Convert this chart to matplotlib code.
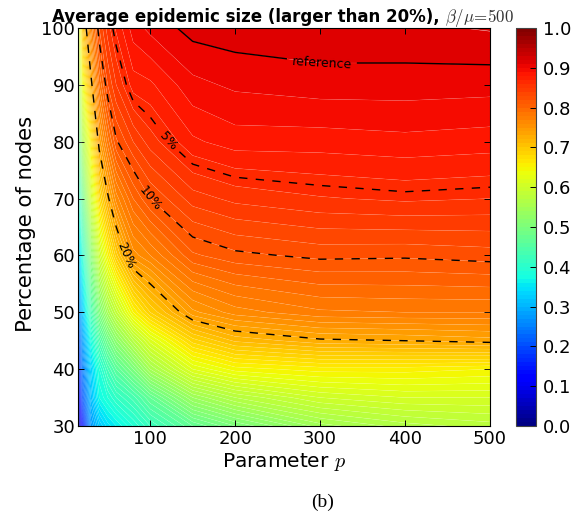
# average epidemic size vs parameter p and percentage of nodes
import numpy as np
import matplotlib
matplotlib.use('Agg')
import matplotlib.pyplot as plt

# grid
p_values = [15, 20, 30, 40, 50, 60, 80, 100, 150, 200, 300, 400, 500]
node_pct = [30, 35, 40, 45, 50, 60, 70, 80, 90, 100]

size_30 = [.03, .13, .27, .32, .345, .36, .39, .42, .47, .50, .545, .565, .575]
size_35 = [.09, .20, .31, .37, .39, .41, .435, .47, .54, .57, .60, .61, .61]
size_40 = [.14, .24, .33, .39, .43, .46, .50, .55, .62, .645, .655, .655, .65]
size_45 = [.19, .275, .375, .44, .485, .52, .57, .615, .685, .712, .727, .73, .735]
size_50 = [.25, .32, .43, .50, .55, .585, .65, .69, .747, .765, .778, .78, .78]
size_60 = [.31, .39, .51, .595, .65, .695, .755, .77, .808, .817, .823, .822, .825]
size_70 = [.38, .47, .595, .675, .725, .765, .80, .82, .845, .853, .859, .862, .86]
size_80 = [.45, .55, .655, .74, .785, .818, .84, .855, .878, .885, .885, .887, .885]
size_90 = [.52, .63, .72, .79, .83, .85, .875, .878, .897, .902, .905, .905, .904]
size_100 = [.58, .695, .77, .83, .855, .872, .895, .903, .914, .916, .918, .918, .921]

# reference level and the 5/10/20% ones below it
line_levels = [0.73, 0.82, 0.865, 0.91]
line_names = {0.73: '20%', 0.82: '10%', 0.865: '5%', 0.91: 'reference'}
label_spots = [(68, 59.7), (96, 69.7), (121, 80), (302, 94)]
x_ticks = [100, 200, 300, 400, 500]
y_ticks = [30, 40, 50, 60, 70, 80, 90, 100]
cbar_ticks = [0.0, 0.1, 0.2, 0.3, 0.4, 0.5, 0.6, 0.7, 0.8, 0.9, 1.0]

Z = np.array([size_30, size_35, size_40, size_45, size_50, size_60, size_70,
              size_80, size_90, size_100])

fig = plt.figure(figsize=(5.77, 5.17), dpi=100)
ax = fig.add_axes([78 / 577, 1 - 426 / 517, 412 / 577, 398 / 517])

levels = np.linspace(0, 1, 101)
cf = ax.contourf(p_values, node_pct, Z, levels=levels,
                 cmap='jet', vmin=0, vmax=1, antialiased=True)
# pale seams between the filled bands
ax.contour(p_values, node_pct, Z, levels=levels[40:], colors='white',
           linewidths=0.3, alpha=0.2)

dash = (0, (6, 6))
styles = [dash, dash, dash, 'solid']
cs = ax.contour(p_values, node_pct, Z, levels=line_levels, colors='k',
                linewidths=1, linestyles=styles)
ax.clabel(cs, fmt=line_names, fontsize=9, inline=True, manual=label_spots)

ax.set_xlim(15, 500)
ax.set_ylim(30, 100)
ax.set_xticks(x_ticks)
ax.set_yticks(y_ticks)
ax.tick_params(direction='in', top=True, right=True, length=4, width=0.7, labelsize=13)
ax.tick_params(axis='x', pad=3)
ax.tick_params(axis='y', pad=2)
ax.set_xlabel('Parameter $p$', fontsize=14.5, labelpad=2, math_fontfamily='cm')
ax.set_ylabel('Percentage of nodes', fontsize=15.2, labelpad=4, y=0.507)

fig.text(52 / 577, 1 - 22 / 517, 'Average epidemic size (larger than 20%),',
         fontsize=11.95, fontweight='bold', va='baseline')
fig.text(445 / 577, 1 - 22 / 517, r'$\beta/\mu\!=\!500$', fontsize=12.2,
         math_fontfamily='cm', va='baseline', color='#333333')

cax = fig.add_axes([516 / 577, 1 - 426 / 517, 20 / 577, 398 / 517])
cb = fig.colorbar(cf, cax=cax, ticks=cbar_ticks)
cb.ax.tick_params(direction='in', length=4, width=0.7, labelsize=13, pad=5)
cb.ax.set_yticklabels(['%.1f' % t for t in cbar_ticks])
cb.outline.set_edgecolor('#444444')

fig.text(323 / 577, 1 - 502 / 517, '(b)', fontsize=14, family='Liberation Serif',
         ha='center', va='center')

fig.savefig('out.png', dpi=100)
